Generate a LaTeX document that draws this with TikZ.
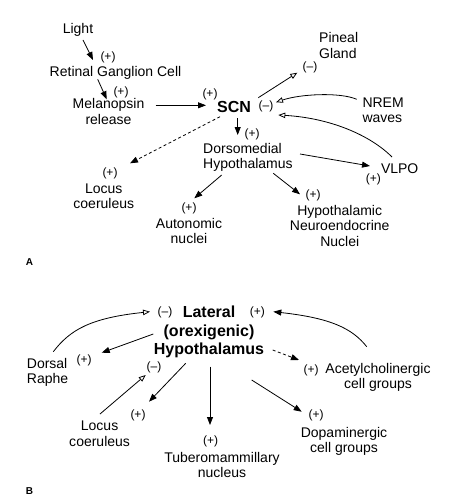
\documentclass[tikz,border=0pt]{standalone}
\usepackage{fontspec}
\setmainfont{Liberation Sans}
\usetikzlibrary{arrows.meta,calc}

\tikzset{
  txt/.style={font=\fontsize{14}{15.5}\selectfont, inner sep=0pt, anchor=base, align=center},
  txtl/.style={txt, align=left, anchor=base west},
  sgn/.style={font=\fontsize{12}{14}\selectfont, inner sep=0pt, anchor=base},
  hub/.style={font=\bfseries\fontsize{16}{18.5}\selectfont, inner sep=0pt, anchor=base, align=center},
  panel/.style={font=\bfseries\fontsize{10}{12}\selectfont, inner sep=0pt, anchor=base},
  excite/.style={-{Triangle[length=8pt,width=6pt]}, line width=0.8pt},
  inhib/.style={-{Triangle[open,length=7pt,width=5.5pt]}, line width=0.8pt},
  dash8/.style={dash pattern=on 3pt off 2.5pt},
}

\begin{document}
\begin{tikzpicture}[x=1pt,y=-1pt]
    \useasboundingbox (0,0) rectangle (453,500);

    % Panel A (multi-line nodes sit on their last baseline)
    \node[txt] (light) at (78,34) {Light};
    \node[sgn] (plRgc) at (108,61) {(+)};
    \node[txt] (rgc) at (115.5,77) {Retinal Ganglion Cell};
    \node[sgn] (plMel) at (121,95.5) {(+)};
    \node[txt] (mel) at (108.5,124.5) {Melanopsin\\release};
    \node[sgn] (plScn) at (210,97.5) {(+)};
    \node[hub] (scn) at (234,113) {SCN};
    \node[txtl] (pineal) at (319,58.5) {Pineal\\Gland};
    \node[sgn] (miPin) at (310,70.5) {(\textendash)};
    \node[txtl] (nrem) at (362.3,122.5) {NREM\\waves};
    \node[sgn] (miScn) at (266,110) {(\textendash)};
    \node[sgn] (plDmh) at (252,137) {(+)};
    \node[txtl] (dmh) at (203,168.5) {Dorsomedial\\Hypothalamus};
    \node[sgn] (plLoc) at (110,176.5) {(+)};
    \node[txt] (locA) at (103.8,208.5) {Locus\\coeruleus};
    \node[sgn] (plAut) at (189,211.5) {(+)};
    \node[txt] (aut) at (189,243.5) {Autonomic\\nuclei};
    \node[sgn] (plHne) at (313,198) {(+)};
    \node[txt] (hne) at (339.7,246) {Hypothalamic\\Neuroendocrine\\Nuclei};
    \node[txt] (vlpo) at (399.7,173) {VLPO};
    \node[sgn] (plVlpo) at (373.3,182) {(+)};
    \node[panel] (labA) at (29.5,265) {A};

    % Panel A connectors
    \draw[excite] ($(light.base)+(5,6)$) -- ($(plRgc.base)+(-15,-1)$);
    \draw[excite] ($(rgc.base)+(-17.8,2.3)$) -- ($(plMel.base)+(-14.3,3.8)$);
    \draw[excite] ($(mel.base)+(47.2,-19.2)$) -- ($(scn.base)+(-28,-7.7)$);
    \draw[inhib] ($(scn.base)+(24.3,-15.3)$) -- ($(pineal.base west)+(-21.7,14.2)$);
    \draw[inhib] ($(nrem.base west)+(-5.6,-23.2)$)
        .. controls (340,92) and (300,94) .. ($(miScn.base)+(10,-7.7)$);
    \draw[inhib] ($(vlpo.base)+(-7.7,-16)$)
        .. controls (370,135) and (330,118) .. ($(miScn.base)+(12.3,5)$);
    \draw[excite] ($(scn.base)+(3.7,5.3)$) -- ($(dmh.base west)+(34.7,-33.5)$);
    \draw[excite, dash8] ($(scn.base)+(-14,3.7)$) -- ($(locA.base)+(26.2,-45.2)$);
    \draw[excite] ($(dmh.base west)+(18.7,6.5)$) -- ($(aut.base)+(5.3,-45.2)$);
    \draw[excite] ($(dmh.base west)+(70.3,4.8)$) -- ($(hne.base)+(-39.7,-51.7)$);
    \draw[excite] ($(dmh.base west)+(97,-14.5)$) -- ($(vlpo.base)+(-29.7,-7)$);

    % Panel B
    \node[hub] (lat) at (209,354.5) {Lateral\\(orexigenic)\\Hypothalamus};
    \node[sgn] (miLat) at (165,315) {(\textendash)};
    \node[sgn] (plLat) at (257.3,315) {(+)};
    \node[txtl] (raphe) at (26.7,383.5) {Dorsal\\Raphe};
    \node[sgn] (plRaphe) at (84.2,363) {(+)};
    \node[sgn] (miLoc) at (154,370) {(\textendash)};
    \node[sgn] (plLocB) at (138,418) {(+)};
    \node[txt] (locB) at (99.6,446) {Locus\\coeruleus};
    \node[sgn] (plTmn) at (210.7,444) {(+)};
    \node[txt] (tmn) at (222,477.5) {Tuberomammillary\\nucleus};
    \node[sgn] (plDop) at (316,418) {(+)};
    \node[txt] (dop) at (344,452.5) {Dopaminergic\\cell groups};
    \node[sgn] (plAch) at (311,373.5) {(+)};
    \node[txt] (ach) at (378,388.5) {Acetylcholinergic\\cell groups};
    \node[panel] (labB) at (29.5,494) {B};

    % Panel B connectors
    \draw[inhib] ($(raphe.base west)+(26.6,-31.8)$)
        .. controls (70,330) and (90,318) .. ($(miLat.base)+(-15,-3.3)$);
    \draw[excite] ($(lat.base)+(-55.7,-20.5)$) -- ($(raphe.base west)+(75,-30.8)$);
    \draw[inhib] ($(locB.base)+(0.4,-32)$) -- ($(miLoc.base)+(-8.3,5)$);
    \draw[excite] ($(lat.base)+(-23.3,8.8)$) -- ($(locB.base)+(49.4,-44.3)$);
    \draw[excite] ($(lat.base)+(1,12.2)$) -- ($(tmn.base)+(-12,-52.5)$);
    \draw[excite] ($(lat.base)+(42.7,25.5)$) -- ($(dop.base)+(-42.3,-40.8)$);
    \draw[excite, dash8] ($(lat.base)+(63.7,-4.5)$) -- ($(ach.base)+(-79,-28.5)$);
    \draw[excite] ($(ach.base)+(-11.3,-41.8)$)
        .. controls (352,328) and (330,318) .. ($(plLat.base)+(16,-3.3)$);
\end{tikzpicture}
\end{document}
